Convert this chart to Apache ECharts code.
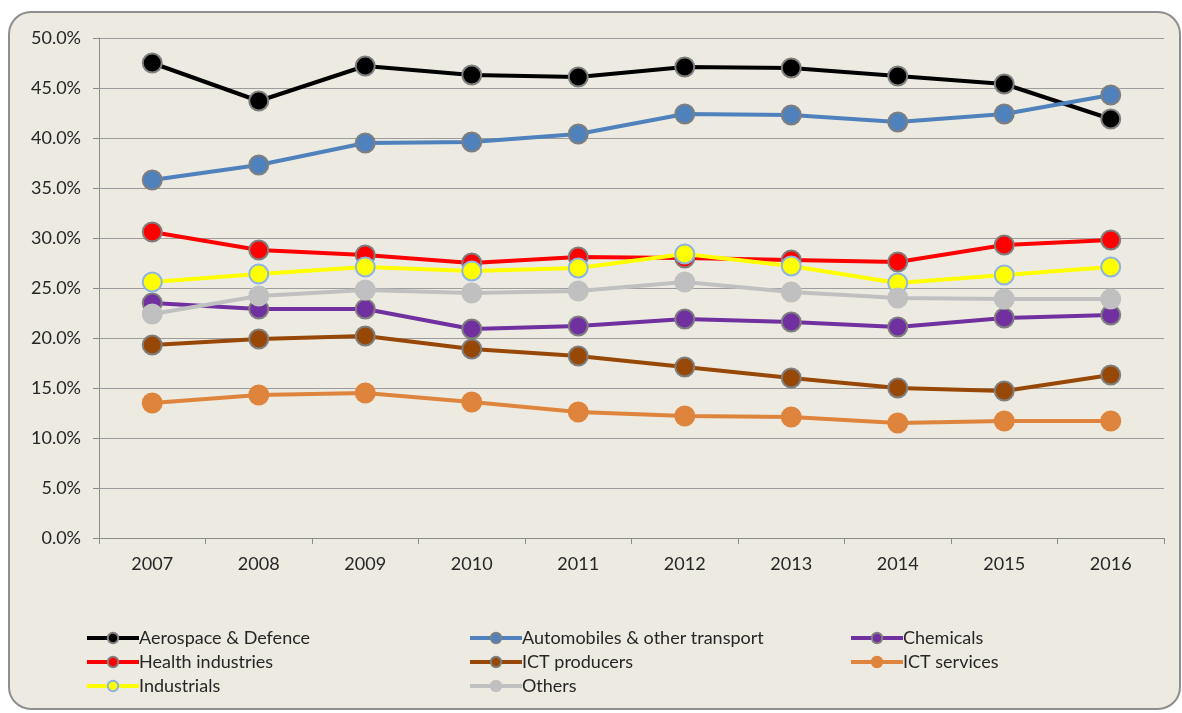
<!DOCTYPE html>
<html><head><meta charset="utf-8">
<script src="https://cdn.jsdelivr.net/npm/echarts@6/dist/echarts.min.js"></script>
<style>html,body{margin:0;padding:0;background:#fff;}#c{width:1182px;height:713px;}</style>
</head><body><div id="c"></div>
<script>
const years = ['2007','2008','2009','2010','2011','2012','2013','2014','2015','2016'];
const aerospace = [47.5,43.7,47.2,46.3,46.1,47.1,47.0,46.2,45.4,41.9];
const automobiles = [35.8,37.3,39.5,39.6,40.4,42.4,42.3,41.6,42.4,44.3];
const chemicals = [23.5,22.9,22.9,20.9,21.2,21.9,21.6,21.1,22.0,22.3];
const health = [30.6,28.8,28.3,27.5,28.1,28.0,27.8,27.6,29.3,29.8];
const ictProducers = [19.3,19.9,20.2,18.9,18.2,17.1,16.0,15.0,14.7,16.3];
const ictServices = [13.5,14.3,14.5,13.6,12.6,12.2,12.1,11.5,11.7,11.7];
const industrials = [25.6,26.4,27.1,26.7,27.0,28.4,27.2,25.5,26.3,27.1];
const others = [22.4,24.2,24.8,24.5,24.7,25.6,24.6,24.0,23.9,23.9];

const names = ['Aerospace & Defence','Automobiles & other transport','Chemicals','Health industries','ICT producers','ICT services','Industrials','Others'];
const seriesData = [aerospace, automobiles, chemicals, health, ictProducers, ictServices, industrials, others];
const colors = ['#000000','#4F81BD','#7030A0','#FF0000','#974706','#DE843C','#FFFF00','#C0C0C0'];
const borders = ['#7F7F7F','#7F7F7F','#7F7F7F','#7F7F7F','#7F7F7F','#DE843C','#8EB4E3','#C0C0C0'];

const font = 'Lato, "Open Sans", sans-serif';
const chart = echarts.init(document.getElementById('c'), null, {renderer:'canvas'});

const series = names.map((n, i) => ({
  name: n, type: 'line', data: seriesData[i],
  symbol: 'circle', symbolSize: 19,
  lineStyle: {color: colors[i], width: 4},
  itemStyle: {color: colors[i], borderColor: borders[i], borderWidth: 2},
  emphasis: {disabled: true}, z: 2 + i
}));

const legendBase = {
  orient: 'vertical', itemWidth: 52, itemHeight: 13, itemGap: 6,
  lineStyle: {width: 4},
  textStyle: {fontFamily: font, fontSize: 18, color: '#262626', lineHeight: 18, padding:[0,0,0,-5]}
};

chart.setOption({
  animation: false,
  color: colors,
  graphic: [{type:'rect', z:-10, silent:true,
    shape:{x:9, y:12, width:1171, height:697, r:22},
    style:{fill:'#EDEBE1', stroke:'#8E8E8E', lineWidth:2}}],
  grid: {left: 99, right: 18, top: 38, bottom: 175, containLabel: false},
  xAxis: {
    type: 'category', data: years, boundaryGap: true,
    axisLine: {lineStyle: {color: '#8C8C8C', width: 1}},
    axisTick: {show: true, length: 6, alignWithLabel: false, lineStyle:{color:'#8C8C8C'}},
    axisLabel: {fontFamily: font, fontSize: 18, color: '#262626', margin: 17}
  },
  yAxis: {
    type: 'value', min: 0, max: 50, interval: 5,
    axisLine: {show: true, lineStyle: {color: '#8C8C8C', width: 1}},
    axisTick: {show: true, length: 6, lineStyle:{color:'#8C8C8C'}},
    splitLine: {lineStyle: {color: '#9C9C9C', width: 1.2}},
    axisLabel: {fontFamily: font, fontSize: 18, color: '#262626', margin: 18,
      formatter: v => v.toFixed(1) + '%'}
  },
  legend: [
    Object.assign({}, legendBase, {left: 80, top: 624, data: [names[0], names[3], names[6]]}),
    Object.assign({}, legendBase, {left: 463, top: 624, data: [names[1], names[4], names[7]]}),
    Object.assign({}, legendBase, {left: 844, top: 624, data: [names[2], names[5]]})
  ],
  series: series
});
</script></body></html>
